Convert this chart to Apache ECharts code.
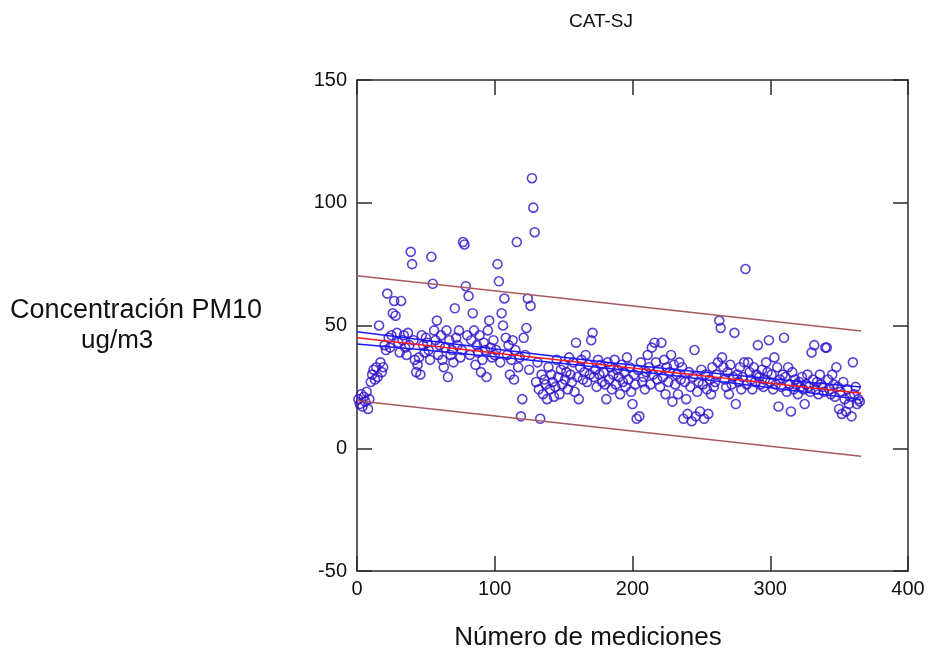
<!DOCTYPE html>
<html>
<head>
<meta charset="utf-8">
<title>CAT-SJ</title>
<script src="https://cdn.jsdelivr.net/npm/echarts@6/dist/echarts.min.js"></script>
<style>
  html, body { margin: 0; padding: 0; background: #fff; }
  #chart { width: 931px; height: 648px; }
</style>
</head>
<body>
<div id="chart"></div>
<script>
const pm10 = [
  20, 18, 22, 17, 21, 19, 23, 16, 20, 27,
  30, 32, 28, 33, 29, 50, 35, 31, 33, 42,
  40, 63, 45, 41, 46, 55, 60, 54, 47, 43,
  39, 60, 44, 46, 41, 38, 47, 42, 80, 75,
  44, 36, 31, 34, 37, 30, 46, 42, 39, 45,
  43, 40, 36, 78, 67, 48, 44, 52, 38, 42,
  46, 36, 33, 41, 48, 29, 44, 38, 40, 35,
  57, 45, 42, 48, 37, 40, 84, 83, 66, 46,
  62, 38, 44, 55, 48, 34, 42, 39, 46, 31,
  36, 43, 40, 29, 48, 52, 41, 37, 44, 38,
  40, 75, 68, 35, 55, 50, 61, 45, 38, 42,
  30, 36, 44, 28, 40, 84, 33, 37, 13, 20,
  45, 38, 49, 61, 32, 58, 110, 98, 88, 27,
  35, 24, 12, 30, 22, 28, 26, 20, 33, 24,
  30, 27, 21, 25, 36, 29, 22, 32, 26, 34,
  28, 31, 24, 37, 30, 27, 35, 23, 43, 29,
  20, 33, 36, 28, 31, 38, 27, 34, 30, 44,
  47, 29, 32, 25, 36, 30, 34, 27, 31, 26,
  20, 35, 28, 33, 24, 30, 36, 26, 32, 29,
  22, 34, 27, 31, 25, 37, 28, 33, 23, 18,
  30, 26, 12, 32, 13, 35, 27, 29, 24, 31,
  38, 33, 26, 41, 30, 43, 35, 28, 32, 25,
  43, 29, 36, 22, 33, 27, 31, 38, 19, 34,
  26, 30, 22, 35, 28, 33, 12, 27, 20, 14,
  31, 25, 11, 29, 40, 13, 23, 27, 15, 32,
  26, 12, 30, 24, 14, 28, 22, 33, 25, 27,
  30, 35, 52, 49, 37, 33, 28, 25, 31, 22,
  34, 26, 29, 47, 18, 30, 27, 33, 24, 29,
  35, 73, 26, 35, 31, 28, 24, 33, 27, 30,
  42, 29, 26, 32, 25, 28, 35, 31, 44, 27,
  30, 24, 37, 26, 33, 17, 28, 25, 30, 45,
  29, 23, 33, 26, 15, 31, 24, 28, 26, 22,
  27, 25, 29, 24, 18, 26, 30, 25, 23, 39,
  28, 42, 24, 27, 22, 30, 26, 25, 23, 41,
  41, 28, 24, 22, 30, 26, 21, 33, 25, 16,
  23, 14, 27, 20, 15, 24, 18, 21, 13, 35,
  22, 25, 18, 20, 19
]

// fitted line and bands
const fitLine = [[0, 45.0], [366, 22.4]]
const confUpper = [[0, 47.5], [45, 44.3], [90, 41.1], [137, 37.9], [183, 34.9], [229, 32.2], [275, 29.7], [320, 27.3], [366, 24.9]]
const confLower = [[0, 42.5], [45, 40.2], [90, 37.8], [137, 35.2], [183, 32.5], [229, 29.6], [275, 26.4], [320, 23.2], [366, 19.9]]
const predUpper = [[0, 70.3], [366, 47.8]]
const predLower = [[0, 19.3], [366, -3.3]]

const xTicks = { min: 0, max: 400, interval: 100 }
const yTicks = { min: -50, max: 150, interval: 50 }

const points = pm10.map((v, i) => [i + 1, v])

const font = 'Liberation Sans, Arial, sans-serif'
const axisLine = { show: true, onZero: false, lineStyle: { color: '#2b2b2b', width: 1.5 } }
const tick = { show: true, inside: true, length: 15, lineStyle: { color: '#2b2b2b', width: 1.5 } }

const chart = echarts.init(document.getElementById('chart'), null, { renderer: 'canvas' })

chart.setOption({
  animation: false,
  backgroundColor: '#fff',
  title: [
    { text: 'CAT-SJ', left: 596, top: 7, textAlign: 'center',
      textStyle: { fontFamily: font, fontSize: 19, fontWeight: 'normal', color: '#111' } },
    { text: 'Número de mediciones', left: 583, top: 620, textAlign: 'center',
      textStyle: { fontFamily: font, fontSize: 26, fontWeight: 'normal', color: '#111' } },
    { text: 'Concentración PM10', left: 5, top: 292,
      textStyle: { fontFamily: font, fontSize: 27, fontWeight: 'normal', color: '#111' } },
    { text: 'ug/m3', left: 76, top: 323,
      textStyle: { fontFamily: font, fontSize: 26, fontWeight: 'normal', color: '#111' } }
  ],
  grid: { left: 357, right: 23, top: 80, bottom: 77, containLabel: false },
  xAxis: [
    { type: 'value', position: 'bottom', ...xTicks,
      axisLine, axisTick: tick, splitLine: { show: false },
      axisLabel: { margin: 8, fontFamily: font, fontSize: 20, color: '#111' } },
    { type: 'value', position: 'top', ...xTicks,
      axisLine, axisTick: tick, splitLine: { show: false }, axisLabel: { show: false } }
  ],
  yAxis: [
    { type: 'value', position: 'left', ...yTicks,
      axisLine, axisTick: tick, splitLine: { show: false },
      axisLabel: { margin: 10, fontFamily: font, fontSize: 20, color: '#111' } },
    { type: 'value', position: 'right', ...yTicks,
      axisLine, axisTick: tick, splitLine: { show: false }, axisLabel: { show: false } }
  ],
  series: [
    {
      type: 'scatter',
      data: points,
      symbol: 'circle',
      symbolSize: 9,
      itemStyle: { color: 'rgba(0,0,0,0)', borderColor: '#3210cc', borderWidth: 1.6 },
      z: 2
    },
    { type: 'line', data: predUpper, symbol: 'none', lineStyle: { color: '#a85a5a', width: 1.5 }, z: 3 },
    { type: 'line', data: predLower, symbol: 'none', lineStyle: { color: '#a85a5a', width: 1.5 }, z: 3 },
    { type: 'line', data: confUpper, symbol: 'none', smooth: true, lineStyle: { color: '#1a1aff', width: 1.5 }, z: 3 },
    { type: 'line', data: confLower, symbol: 'none', smooth: true, lineStyle: { color: '#1a1aff', width: 1.5 }, z: 3 },
    { type: 'line', data: fitLine, symbol: 'none', lineStyle: { color: '#ff1a1a', width: 1.5 }, z: 4 }
  ]
})

window.addEventListener('resize', () => chart.resize())
</script>
</body>
</html>
